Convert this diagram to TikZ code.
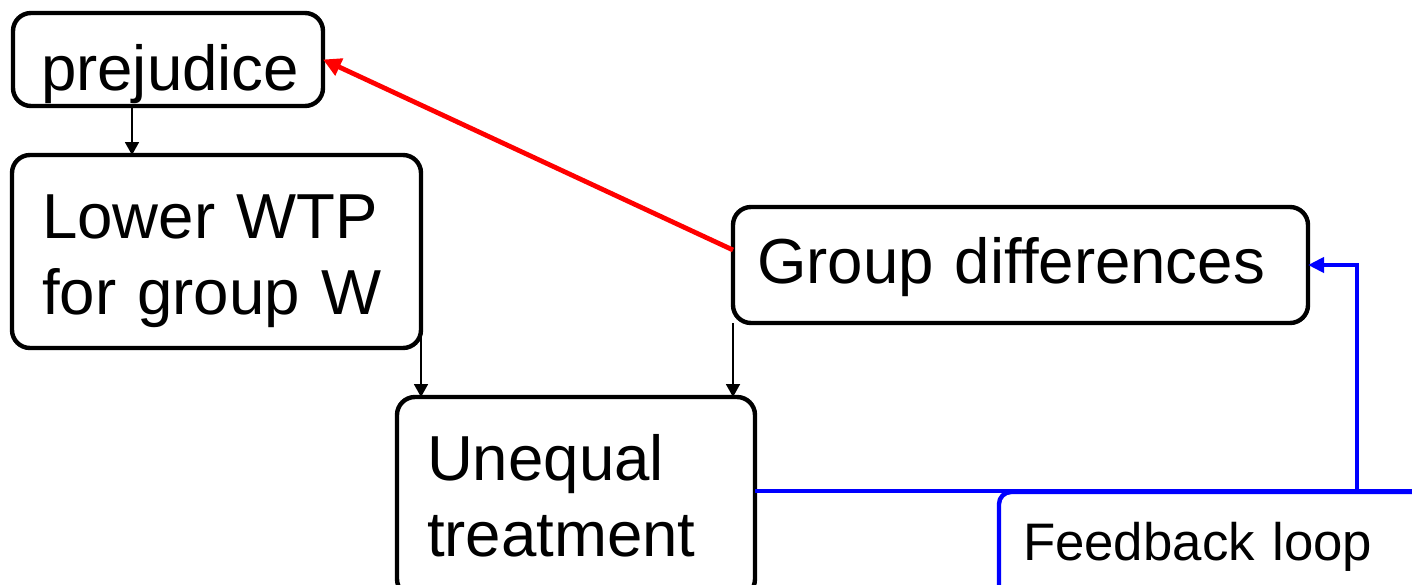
\documentclass[tikz,border=0pt]{standalone}
\usepackage{fontspec}
\setmainfont{Liberation Sans}
\usetikzlibrary{arrows.meta}

\tikzset{
  box/.style={draw, line width=2.2pt, rounded corners=9pt, inner ysep=0pt,
    outer sep=0pt, align=left, font=\fontsize{31.8}{38}\selectfont},
  loopbox/.style={draw=blue, line width=2.2pt, rounded corners=6pt, inner ysep=0pt,
    outer sep=0pt, align=left, font=\fontsize{26.4}{31}\selectfont},
  thinarr/.style={line width=0.9pt, -{Triangle[length=6.5pt,width=7pt]}},
  redarr/.style={red, line width=2.4pt, -{Triangle[length=9pt,width=9pt]}},
  blueline/.style={blue, line width=2.4pt},
  bluearr/.style={blueline, -{Triangle[length=8pt,width=7.5pt]}},
}

\begin{document}
\begin{tikzpicture}[x=0.5pt, y=-0.5pt]
  \useasboundingbox (0,0) rectangle (1412,584);
  \clip (0,0) rectangle (1412,584);

  % boxes
  \node[box, anchor=north west, inner xsep=14pt, text width=127pt,
        text height=38.5pt, text depth=8pt, align=center] (prej) at (13,13) {prejudice};
  \node[box, anchor=north west, inner xsep=15pt, text width=174.5pt,
        text height=41.5pt, text depth=55pt] (lower) at (12,155) {Lower WTP\\for group W};
  \node[box, anchor=north west, inner xsep=12pt, text width=263.5pt,
        text height=38pt, text depth=20pt] (group) at (733,207) {Group differences};
  \node[box, anchor=north west, inner xsep=15pt, text width=149pt,
        text height=41.5pt, text depth=58.5pt] (unequal) at (397,397) {Unequal\\treatment};
  \node[loopbox, anchor=north west, inner xsep=12pt, text width=201.5pt,
        text height=34pt, text depth=30pt] (feedback) at (999,492) {Feedback loop};

  % arrows
  \draw[thinarr] ([xshift=-18pt]prej.south) -- ([xshift=-18pt]prej.south |- lower.north);
  \draw[thinarr] ([yshift=11.5pt]lower.south east) -- (lower.south east |- unequal.north);
  \draw[thinarr] (group.south west) -- (group.south west |- unequal.north);
  \draw[redarr] ([yshift=7.5pt]group.west) -- (prej.east);

  % feedback loop
  \coordinate (loopend) at (1440,491);
  \coordinate (loopup) at (1357,491);
  \draw[blueline] (unequal.east |- loopend) -- (loopend);
  \draw[bluearr] (loopup) |- (group.east);
\end{tikzpicture}
\end{document}
